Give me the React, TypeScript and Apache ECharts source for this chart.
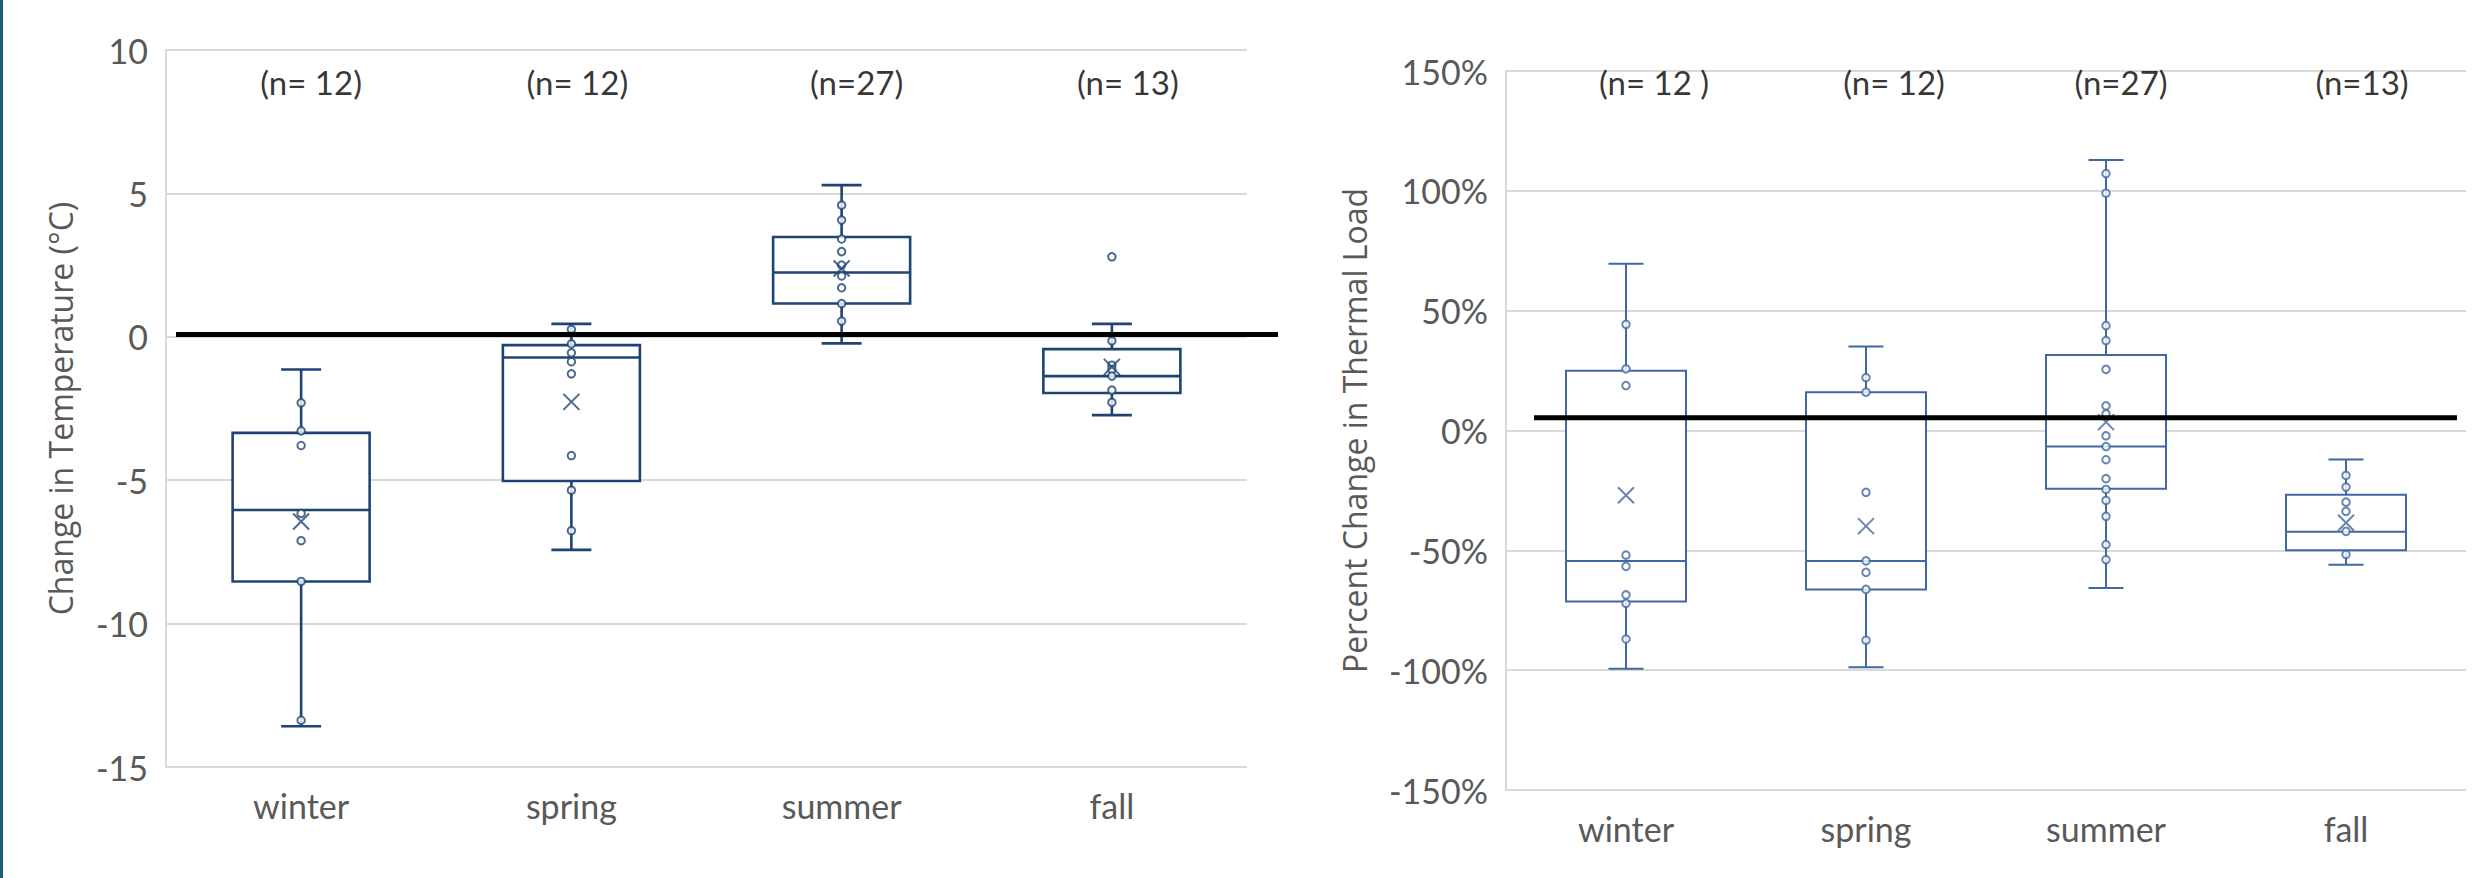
import React, { useEffect, useRef } from 'react';
import * as echarts from 'echarts';

// ---------- DATA ----------
const SEASONS = ['winter', 'spring', 'summer', 'fall'];

// Left chart: change in temperature (°C)
const TEMP_MIN = [-13.58, -7.43, -0.23, -2.73];
const TEMP_Q1 = [-8.53, -5.03, 1.16, -1.96];
const TEMP_MEDIAN = [-6.04, -0.72, 2.24, -1.37];
const TEMP_Q3 = [-3.35, -0.29, 3.48, -0.43];
const TEMP_MAX = [-1.14, 0.45, 5.29, 0.45];
const TEMP_MEAN = [-6.44, -2.27, 2.38, -1.05];
const TEMP_POINTS_WINTER = [-2.3, -3.28, -3.79, -6.16, -7.11, -8.53, -13.37];
const TEMP_POINTS_SPRING = [0.26, -0.25, -0.56, -0.87, -1.29, -4.14, -5.35, -6.76];
const TEMP_POINTS_SUMMER = [4.59, 4.07, 3.41, 2.97, 2.5, 2.12, 1.71, 1.16, 0.55];
const TEMP_POINTS_FALL = [2.79, -0.14, -0.99, -1.14, -1.37, -1.86, -2.29];
const TEMP_N_LABELS = ['(n= 12)', '(n= 12)', '(n=27)', '(n= 13)'];
const TEMP_AXIS = { min: -15, max: 10, interval: 5 };
const TEMP_REF = 0.08;
const TEMP_LABEL_LEVEL = 8.88;

// Right chart: percent change in thermal load (%)
const LOAD_MIN = [-99.4, -98.75, -65.7, -56.0];
const LOAD_Q1 = [-71.3, -66.3, -24.3, -50.0];
const LOAD_MEDIAN = [-54.4, -54.4, -6.7, -42.2];
const LOAD_Q3 = [24.9, 16.0, 31.5, -26.8];
const LOAD_MAX = [69.6, 35.1, 112.9, -12.1];
const LOAD_MEAN = [-27.0, -39.9, 3.5, -38.5];
const LOAD_POINTS_WINTER = [44.3, 25.7, 18.75, -52.0, -56.7, -68.6, -72.1, -87.0];
const LOAD_POINTS_SPRING = [22.1, 16.0, -25.8, -54.4, -59.2, -66.3, -87.5];
const LOAD_POINTS_SUMMER = [107.2, 99.0, 43.75, 37.5, 25.5, 10.3, 6.9, -2.2, -6.7, -12.2, -20.1, -24.6, -29.2, -35.8, -47.6, -53.9];
const LOAD_POINTS_FALL = [-18.75, -23.6, -29.9, -33.75, -42.1, -51.7];
const LOAD_N_LABELS = ['(n= 12 )', '(n= 12)', '(n=27)', '(n=13)'];
const LOAD_AXIS = { min: -150, max: 150, interval: 50 };
const LOAD_REF = 5.3;
const LOAD_LABEL_LEVEL = 145.4;

// ---------- STYLE / LAYOUT ----------
const W = 2490;
const H = 878;
const LEFT_COLOR = '#1f4373';
const RIGHT_COLOR = '#4168a3';
const GRID_COLOR = '#d9d9d9';
const TEXT_GRAY = '#595959';
const LABEL_FONT = 'Lato, "Open Sans", sans-serif';
const TITLE_FONT = '"Open Sans", "Noto Sans", sans-serif';
const TEMP_LABEL_OFFSETS = [10, 6, 15, 16];
const LOAD_LABEL_OFFSETS = [28, 28, 15, 16];

function boxRenderer(color: string, lineWidth: number, boxRatio: number, capRatio: number) {
  return (params: any, api: any) => {
    const cat = api.value(0);
    const pMin = api.coord([cat, api.value(1)]);
    const pQ1 = api.coord([cat, api.value(2)]);
    const pMed = api.coord([cat, api.value(3)]);
    const pQ3 = api.coord([cat, api.value(4)]);
    const pMax = api.coord([cat, api.value(5)]);
    const band = api.size([1, 0])[0];
    const half = (band * boxRatio) / 2;
    const capHalf = (band * capRatio) / 2;
    const cx = pMed[0];
    const st = { stroke: color, lineWidth, fill: 'none' };
    return {
      type: 'group',
      children: [
        { type: 'line', shape: { x1: cx, y1: pQ3[1], x2: cx, y2: pMax[1] }, style: st },
        { type: 'line', shape: { x1: cx, y1: pQ1[1], x2: cx, y2: pMin[1] }, style: st },
        { type: 'line', shape: { x1: cx - capHalf, y1: pMax[1], x2: cx + capHalf, y2: pMax[1] }, style: st },
        { type: 'line', shape: { x1: cx - capHalf, y1: pMin[1], x2: cx + capHalf, y2: pMin[1] }, style: st },
        {
          type: 'rect',
          shape: { x: cx - half, y: pQ3[1], width: half * 2, height: pQ1[1] - pQ3[1] },
          style: { stroke: color, lineWidth, fill: '#ffffff' },
        },
        { type: 'line', shape: { x1: cx - half, y1: pMed[1], x2: cx + half, y2: pMed[1] }, style: st },
      ],
    };
  };
}

function buildSeries(
  idx: number,
  color: string,
  lineWidth: number,
  boxRatio: number,
  capRatio: number,
  mins: number[], q1: number[], med: number[], q3: number[], maxs: number[],
  means: number[],
  points: number[][],
  nLabels: string[],
  labelLevel: number,
  labelOffsets: number[]
) {
  const boxData = SEASONS.map((_, i) => [i, mins[i], q1[i], med[i], q3[i], maxs[i]]);
  const pointData: number[][] = [];
  points.forEach((arr, i) => arr.forEach((v) => pointData.push([i, v])));
  const meanData = means.map((v, i) => [i, v]);
  const labelData = nLabels.map((t, i) => ({ value: [i, labelLevel], label: { offset: [labelOffsets[i], 0] } }));
  return [
    {
      type: 'custom',
      xAxisIndex: idx,
      yAxisIndex: idx,
      renderItem: boxRenderer(color, lineWidth, boxRatio, capRatio),
      encode: { x: 0, y: [1, 2, 3, 4, 5] },
      data: boxData,
      silent: true,
      z: 2,
    },
    {
      type: 'scatter',
      xAxisIndex: idx,
      yAxisIndex: idx,
      symbol: 'emptyCircle',
      symbolSize: 7.5,
      itemStyle: { color: color, borderColor: color, borderWidth: 1.8 },
      data: pointData,
      silent: true,
      z: 3,
    },
    {
      type: 'scatter',
      xAxisIndex: idx,
      yAxisIndex: idx,
      symbol: 'path://M0,0L10,10M0,10L10,0',
      symbolSize: 16,
      itemStyle: { color: 'rgba(0,0,0,0)', borderColor: color, borderWidth: 2 },
      data: meanData,
      silent: true,
      z: 4,
    },
    {
      type: 'scatter',
      xAxisIndex: idx,
      yAxisIndex: idx,
      symbol: 'circle',
      symbolSize: 1,
      itemStyle: { color: 'rgba(0,0,0,0)' },
      label: {
        show: true,
        position: 'inside',
        formatter: (p: any) => nLabels[p.dataIndex],
        color: '#000000',
        fontFamily: LABEL_FONT,
        fontSize: 33,
      },
      data: labelData,
      silent: true,
      z: 5,
    },
  ];
}

function yAxisCommon() {
  return {
    type: 'value',
    axisLine: { show: true, lineStyle: { color: GRID_COLOR, width: 2 } },
    axisTick: { show: false },
    splitLine: { show: true, lineStyle: { color: GRID_COLOR, width: 2 } },
    axisLabel: { fontFamily: LABEL_FONT, fontSize: 34, color: TEXT_GRAY, margin: 18 },
    nameLocation: 'middle',
    nameRotate: 90,
    nameTextStyle: { fontFamily: TITLE_FONT, fontSize: 32, color: TEXT_GRAY },
  };
}

function xAxisCommon(gridIndex: number) {
  return {
    type: 'category',
    gridIndex,
    data: SEASONS,
    boundaryGap: true,
    axisLine: { show: false },
    axisTick: { show: false },
    splitLine: { show: false },
    axisLabel: { fontFamily: LABEL_FONT, fontSize: 34, color: TEXT_GRAY, margin: 21 },
  };
}

export default function App() {
  const ref = useRef<HTMLDivElement>(null);

  useEffect(() => {
    document.body.style.margin = '0';
    if (!ref.current) return;
    const chart = echarts.init(ref.current, undefined, { renderer: 'svg', width: W, height: H });
    const option: any = {
      animation: false,
      backgroundColor: '#ffffff',
      grid: [
        { left: 166, top: 50, width: 1081, height: 717, containLabel: false },
        { left: 1506, top: 71, width: 960, height: 719, containLabel: false },
      ],
      xAxis: [xAxisCommon(0), xAxisCommon(1)],
      yAxis: [
        {
          ...yAxisCommon(),
          gridIndex: 0,
          min: TEMP_AXIS.min,
          max: TEMP_AXIS.max,
          interval: TEMP_AXIS.interval,
          name: 'Change in Temperature (°C)',
          nameGap: 90,
        },
        {
          ...yAxisCommon(),
          gridIndex: 1,
          min: LOAD_AXIS.min,
          max: LOAD_AXIS.max,
          interval: LOAD_AXIS.interval,
          axisLabel: { fontFamily: LABEL_FONT, fontSize: 34, color: TEXT_GRAY, margin: 18, formatter: '{value}%' },
          name: 'Percent Change in Thermal Load',
          nameGap: 136,
        },
      ],
      series: [
        ...buildSeries(
          0, LEFT_COLOR, 2.6, 0.507, 0.148,
          TEMP_MIN, TEMP_Q1, TEMP_MEDIAN, TEMP_Q3, TEMP_MAX, TEMP_MEAN,
          [TEMP_POINTS_WINTER, TEMP_POINTS_SPRING, TEMP_POINTS_SUMMER, TEMP_POINTS_FALL],
          TEMP_N_LABELS, TEMP_LABEL_LEVEL, TEMP_LABEL_OFFSETS
        ),
        ...buildSeries(
          1, RIGHT_COLOR, 2, 0.5, 0.146,
          LOAD_MIN, LOAD_Q1, LOAD_MEDIAN, LOAD_Q3, LOAD_MAX, LOAD_MEAN,
          [LOAD_POINTS_WINTER, LOAD_POINTS_SPRING, LOAD_POINTS_SUMMER, LOAD_POINTS_FALL],
          LOAD_N_LABELS, LOAD_LABEL_LEVEL, LOAD_LABEL_OFFSETS
        ),
      ],
    };
    chart.setOption(option);

    const yL = chart.convertToPixel({ yAxisIndex: 0 } as any, TEMP_REF) as number;
    const yR = chart.convertToPixel({ yAxisIndex: 1 } as any, LOAD_REF) as number;
    chart.setOption({
      graphic: [
        { type: 'rect', shape: { x: 0, y: 0, width: 3, height: H }, style: { fill: '#1f5a78' }, z: 100 },
        { type: 'line', shape: { x1: 176, y1: yL, x2: 1278, y2: yL }, style: { stroke: '#000000', lineWidth: 5 }, z: 100 },
        { type: 'line', shape: { x1: 1534, y1: yR, x2: 2457, y2: yR }, style: { stroke: '#000000', lineWidth: 5 }, z: 100 },
      ],
    });

    return () => {
      chart.dispose();
    };
  }, []);

  return <div ref={ref} style={{ width: W, height: H }} />;
}
